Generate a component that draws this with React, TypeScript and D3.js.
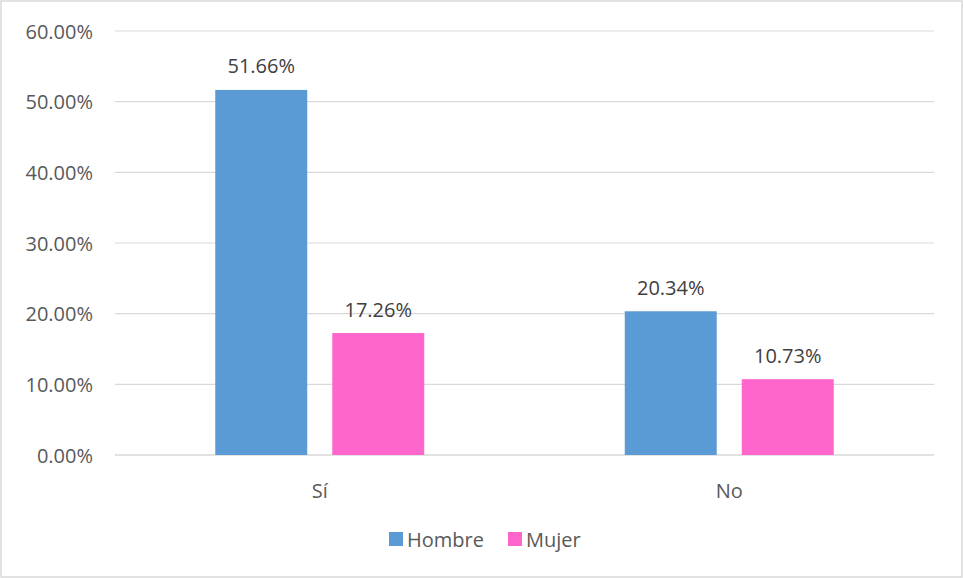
import { useEffect, useRef } from 'react';
import * as d3 from 'd3';

const categories = ['Sí', 'No'];
const seriesNames = ['Hombre', 'Mujer'];
const seriesColors = ['#5b9bd5', '#ff66cc'];
const hombre = [51.66, 20.34];
const mujer = [17.26, 10.73];
const yTicks = [0, 10, 20, 30, 40, 50, 60];

const W = 963;
const H = 578;
const FONT = '"Open Sans", "Noto Sans", sans-serif';
const TEXT = '#595959';
const FS = 20;

export default function App() {
  const svgRef = useRef<SVGSVGElement>(null);

  useEffect(() => {
    if (!svgRef.current) return;
    const svg = d3.select(svgRef.current);
    svg.selectAll('*').remove();

    const margin = { top: 31, right: 29, bottom: 123, left: 115 };
    const innerW = W - margin.left - margin.right;
    const innerH = H - margin.top - margin.bottom;

    svg.append('rect')
      .attr('x', 1).attr('y', 1)
      .attr('width', W - 2).attr('height', H - 2)
      .attr('fill', '#fff')
      .attr('stroke', '#d9d9d9')
      .attr('stroke-width', 1.5);

    const g = svg.append('g').attr('transform', `translate(${margin.left},${margin.top})`);

    const groupW = 209;
    const x0 = d3.scaleBand().domain(categories).range([0, innerW]);
    const x1 = d3.scaleBand().domain(seriesNames).range([0, groupW]).paddingInner(0.214);
    const y = d3.scaleLinear().domain([0, 60]).range([innerH, 0]);

    g.append('g')
      .selectAll('line')
      .data(yTicks)
      .join('line')
      .attr('x1', 0).attr('x2', innerW)
      .attr('y1', (d) => y(d)).attr('y2', (d) => y(d))
      .attr('stroke', '#d9d9d9')
      .attr('stroke-width', (d) => (d === 0 ? 1.5 : 1.2));

    g.append('g')
      .selectAll('text')
      .data(yTicks)
      .join('text')
      .attr('x', -22)
      .attr('y', (d) => y(d))
      .attr('text-anchor', 'end')
      .attr('dominant-baseline', 'central')
      .attr('fill', TEXT)
      .attr('font-family', FONT)
      .attr('font-size', FS)
      .text((d) => `${d.toFixed(2)}%`);

    const rows = categories.map((c, i) => ({ cat: c, values: [hombre[i], mujer[i]] }));

    const groups = g.append('g')
      .selectAll('g')
      .data(rows)
      .join('g')
      .attr('transform', (d) => `translate(${(x0(d.cat) ?? 0) + x0.bandwidth() / 2 - groupW / 2},0)`);

    groups.selectAll('rect')
      .data((d) => d.values.map((v, j) => ({ name: seriesNames[j], v, j })))
      .join('rect')
      .attr('x', (d) => x1(d.name) ?? 0)
      .attr('y', (d) => y(d.v))
      .attr('width', x1.bandwidth())
      .attr('height', (d) => innerH - y(d.v))
      .attr('fill', (d) => seriesColors[d.j]);

    groups.selectAll('text')
      .data((d) => d.values.map((v, j) => ({ name: seriesNames[j], v, j })))
      .join('text')
      .attr('x', (d) => (x1(d.name) ?? 0) + x1.bandwidth() / 2)
      .attr('y', (d) => y(d.v) - 24)
      .attr('text-anchor', 'middle')
      .attr('dominant-baseline', 'central')
      .attr('fill', '#404040')
      .attr('font-family', FONT)
      .attr('font-size', FS)
      .text((d) => `${d.v.toFixed(2)}%`);

    g.append('g')
      .selectAll('text')
      .data(categories)
      .join('text')
      .attr('x', (d) => (x0(d) ?? 0) + x0.bandwidth() / 2)
      .attr('y', innerH + 35)
      .attr('text-anchor', 'middle')
      .attr('dominant-baseline', 'central')
      .attr('fill', TEXT)
      .attr('font-family', FONT)
      .attr('font-size', FS)
      .text((d) => d);

    const legend = svg.append('g').attr('transform', `translate(389,539)`);
    const offsets = [0, 119];
    seriesNames.forEach((name, i) => {
      const lg = legend.append('g').attr('transform', `translate(${offsets[i]},0)`);
      lg.append('rect')
        .attr('x', 0).attr('y', -7)
        .attr('width', 14).attr('height', 14)
        .attr('fill', seriesColors[i]);
      lg.append('text')
        .attr('x', 18).attr('y', 0)
        .attr('dominant-baseline', 'central')
        .attr('fill', TEXT)
        .attr('font-family', FONT)
        .attr('font-size', FS)
        .text(name);
    });
  }, []);

  return (
    <div style={{ position: 'fixed', left: 0, top: 0 }}>
      <svg ref={svgRef} width={W} height={H} style={{ display: 'block' }} />
    </div>
  );
}
